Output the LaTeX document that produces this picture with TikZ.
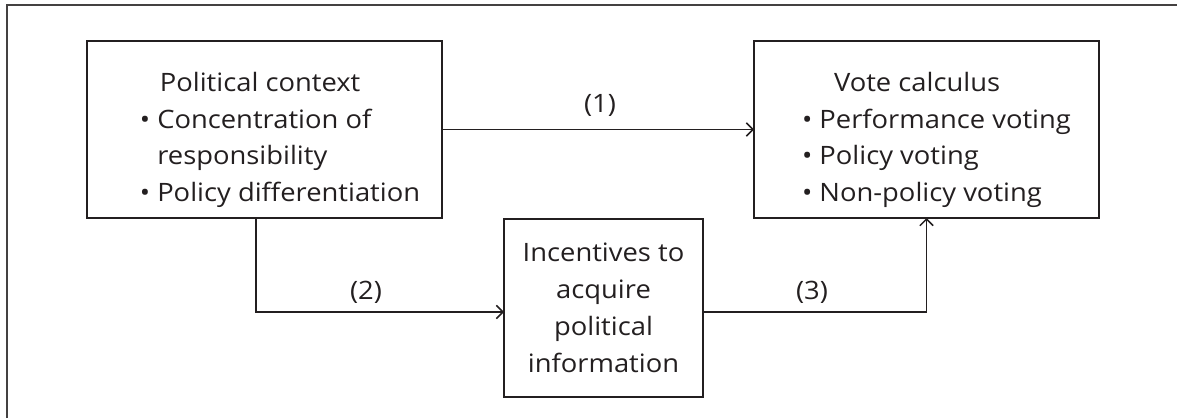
\documentclass[tikz,border=0pt]{standalone}
\usepackage{fontspec}
\setmainfont[FakeStretch=1.08]{Open Sans}
\usetikzlibrary{arrows.meta,calc}
\definecolor{ink}{HTML}{231F20}
\tikzset{
  boxnode/.style={draw=ink, line width=1.4pt, inner sep=0pt, outer sep=0pt},
  txt/.style={inner sep=0pt, text=ink, font=\fontsize{19}{27.6}\selectfont},
  lbl/.style={inner sep=0pt, text=ink, font=\fontsize{19}{27.6}\selectfont},
  arr/.style={draw=ink, line width=1.1pt, -{Straight Barb[length=5pt,width=10pt,line width=1.1pt]}},
}
\begin{document}
\begin{tikzpicture}[x=0.75pt,y=-0.75pt]
\useasboundingbox (0,0) rectangle (1177,418);
\draw[draw=ink!85, line width=1.5pt] (7,418) -- (7,5) -- (1177,5);
% boxes
\node[boxnode, minimum width=266.25pt, minimum height=132.75pt] (A) at (264.5,129.5) {};
\node[boxnode, minimum width=258.75pt, minimum height=132.75pt] (B) at (926.5,129.5) {};
\node[boxnode, minimum width=149.25pt, minimum height=133.5pt] (C) at (603.5,308) {};
% texts
\node[txt, align=left] (At) at (280,140) {\hspace*{15pt}Political context\\ •\ Concentration of\\ \hphantom{•\ }responsibility\\ •\ Policy differentiation};
\node[txt, align=left] (Bt) at (936.5,140) {\hspace*{24pt}Vote calculus\\ •\ Performance voting\\ •\ Policy voting\\ •\ Non-policy voting};
\node[txt, align=center] (Ct) at (603.5,308) {Incentives to\\ acquire\\ political\\ information};
% connectors
\coordinate (A2) at ($(A.south)+(-8.5,0)$);
\coordinate (Cin) at ($(C.west)+(0,4)$);
\coordinate (Cout) at ($(C.east)+(0,4)$);
\draw[arr] (A.east) -- (B.west);
\draw[arr] (A2) |- (Cin);
\draw[arr] (Cout) -| (B.south);
% labels
\node[lbl] (L1) at (600,105) {(1)};
\node[lbl] (L2) at (366,292) {(2)};
\node[lbl] (L3) at (812,292) {(3)};
\end{tikzpicture}
\end{document}
